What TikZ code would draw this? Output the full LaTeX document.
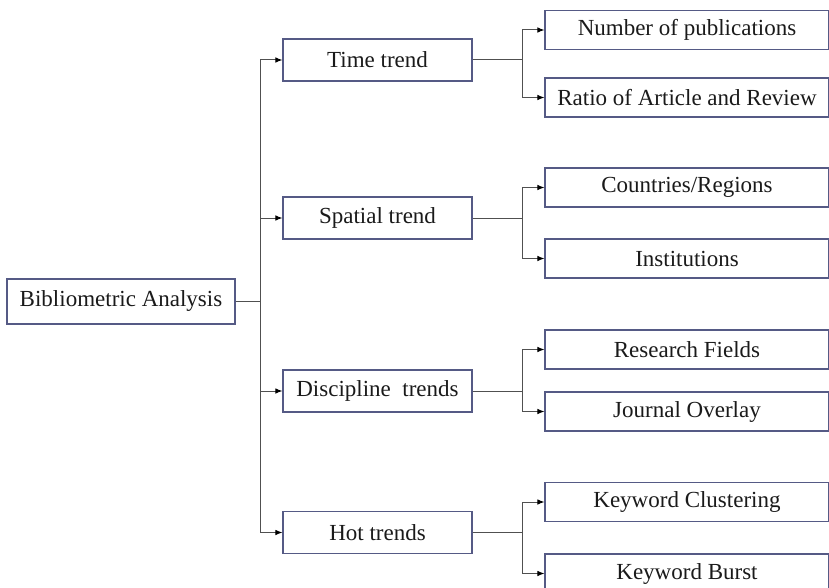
\documentclass[tikz,border=0pt]{standalone}
\usepackage{fontspec}
\setmainfont{Liberation Serif}
\usetikzlibrary{arrows.meta}
\definecolor{boxc}{HTML}{555A85}
\definecolor{linec}{HTML}{505050}
\definecolor{txtc}{HTML}{1A1A1A}
\tikzset{
  box/.style={draw=boxc, line width=1.1pt, fill=white, inner sep=0pt, text=txtc,
    font=\fontsize{23}{26}\selectfont},
  rootbox/.style={box, minimum width=228pt, minimum height=45pt},
  midbox/.style={box, minimum width=189pt, minimum height=42pt},
  leafbox/.style={box, minimum width=284pt, minimum height=39pt},
  conn/.style={draw=linec, line width=1pt},
  arr/.style={conn, -{Latex[length=7pt,width=5.5pt,color=black]}},
}
\begin{document}
\begin{tikzpicture}[x=1pt,y=-1pt]
\useasboundingbox[fill=white] (0,0) rectangle (829,588);
\coordinate (tx) at (260,0);
\coordinate (bx) at (522,0);

\node[rootbox] (root) at (121,301.5) {Bibliometric Analysis};

\node[midbox] (time) at (377.5,60) {Time trend};
\node[midbox] (spat) at (377.5,218) {Spatial trend};
\node[midbox] (disc) at (377.5,391) {Discipline\ \ trends};
\node[midbox] (hot) at (377.5,532.5) {Hot trends};

\node[leafbox] (l1) at (687,30) {Number of publications};
\node[leafbox] (l2) at (687,97.5) {Ratio of Article and Review};
\node[leafbox] (l3) at (687,187.5) {Countries/Regions};
\node[leafbox] (l4) at (687,258.5) {Institutions};
\node[leafbox] (l5) at (687,349.5) {Research Fields};
\node[leafbox] (l6) at (687,411.5) {Journal Overlay};
\node[leafbox] (l7) at (687,502) {Keyword Clustering};
\node[leafbox] (l8) at (687,573.5) {Keyword Burst};

% root to trunk
\draw[conn] (root.east) -- (root -| tx);
\draw[conn] (time -| tx) -- (hot -| tx);
\foreach \m in {time,spat,disc,hot}{
  \draw[arr] (\m -| tx) -- (\m.west);
}

% branches
\foreach \m/\a/\b in {time/l1/l2, spat/l3/l4, disc/l5/l6, hot/l7/l8}{
  \draw[conn] (\m.east) -- (\m -| bx);
  \draw[arr] (\m -| bx) |- (\a.west);
  \draw[arr] (\m -| bx) |- (\b.west);
}
\end{tikzpicture}
\end{document}
